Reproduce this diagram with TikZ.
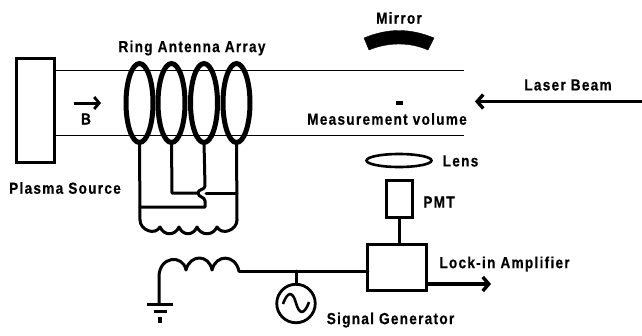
\documentclass[tikz,border=0pt]{standalone}
\usepackage{fontspec}
\usepackage{tikz}
\usetikzlibrary{arrows.meta,shapes.geometric}
\newfontfamily\figfont{Liberation Sans Bold}[FakeStretch=0.85,LetterSpace=8,FakeBold=0.4]
\tikzset{
    figlabel/.style={font=\figfont\fontsize{16}{18}\selectfont, inner sep=0pt},
    wire/.style={line width=3pt, line cap=round, line join=round},
    beamline/.style={line width=1.8pt},
    boxpart/.style={draw, line width=3.2pt, rectangle, outer sep=0pt, inner sep=0pt},
    ringant/.style={draw, ellipse, line width=5pt, minimum width=27pt, minimum height=79pt, inner sep=0pt, outer sep=0pt},
    bigarrow/.style={line width=3.4pt, -{Straight Barb[length=6pt,width=14pt,line width=3.4pt]}},
}
\begin{document}
\begin{tikzpicture}[x=1pt,y=-1pt]
    \useasboundingbox (0,0) rectangle (642,335);

    % source and beam lines
    \node[boxpart, minimum width=38pt, minimum height=104pt] (source) at (35.5,110.5) {};
    \coordinate (beamtop) at (464,70.5);
    \coordinate (beambot) at (464,135.5);
    \draw[beamline] (source.east |- beamtop) -- (beamtop);
    \draw[beamline] (source.east |- beambot) -- (beambot);

    % rings
    \node[ringant] (ringa) at (139.5,103) {};
    \node[ringant] (ringb) at (171.5,103) {};
    \node[ringant] (ringc) at (204,103) {};
    \node[ringant] (ringd) at (236.5,103) {};

    % wires under the rings, with the hop at ringc
    \coordinate (coila) at (140,220);
    \coordinate (coilb) at (237,220);
    \coordinate (hopin) at (205,186);
    \coordinate (hopout) at (205,207);
    \coordinate (junca) at (172,193);
    \coordinate (juncb) at (198,193);
    \coordinate (juncc) at (206,193);
    \draw[wire] (ringa.south) -- (coila);
    \draw[wire] (ringd.south) -- (coilb);
    \draw[wire] (ringb.south) -- (junca) -- (juncb);
    \draw[wire] (juncc) -- (juncc -| coilb);
    \draw[wire] (ringc.south) -- (hopin)
        .. controls (205,190) and (198,189) .. (198,193)
        .. controls (198,197) and (205,197) .. (205,201)
        -- (hopout) -- (hopout -| coila);

    % coil under the array
    \draw[wire] (coila) .. controls (140,230) and (155,236) .. (160,227)
        .. controls (164,236) and (175,236) .. (179,227)
        .. controls (183,236) and (193,236) .. (197,227)
        .. controls (201,236) and (213,236) .. (217,227)
        .. controls (222,236) and (237,230) .. (coilb);

    % mirror
    \draw[fill=black, line join=round] (364,38) .. controls (388,28) and (410,28) .. (434,38)
        -- (428,50) .. controls (410,42) and (388,42) .. (369,50) -- cycle;
    \node[fill=black, minimum width=7pt, minimum height=3.5pt, inner sep=0pt] (volmark) at (399,103) {};

    % laser
    \coordinate (laserstart) at (642,101.5);
    \coordinate (laserend) at (475,101.5);
    \draw[bigarrow] (laserstart) -- (laserend);

    % detection
    \node[draw, ellipse, line width=2.6pt, minimum width=65pt, minimum height=13pt, inner sep=0pt, outer sep=0pt] (lens) at (399,160.5) {};
    \node[boxpart, minimum width=25.5pt, minimum height=37pt] (pmt) at (399.5,199) {};
    \node[boxpart, minimum width=58.5pt, minimum height=46pt] (lockin) at (397,267.5) {};
    \draw[wire] (pmt.south) -- (pmt.south |- lockin.north);
    \coordinate (outend) at (491,284);
    \draw[bigarrow] (lockin.east |- outend) -- (outend);

    % generator and inductor
    \node[draw, circle, line width=2.8pt, minimum size=38.5pt, inner sep=0pt, outer sep=0pt] (siggen) at (296,303.5) {};
    \draw[line width=2.6pt] (283,304) .. controls (288,290) and (293,292) .. (296,303)
        .. controls (299,314) and (304,316) .. (309,302);
    \coordinate (indend) at (239,271);
    \coordinate (gndtop) at (159,304);
    \draw[wire] (lockin.west |- indend) -- (indend);
    \draw[wire] (siggen.north) -- (siggen.north |- indend);
    \draw[wire] (gndtop) -- (159,277)
        .. controls (159,256) and (183,254) .. (186,270)
        .. controls (190,254) and (209,254) .. (212,270)
        .. controls (216,254) and (235,254) .. (indend);

    % ground
    \draw[line width=3pt] (147,304) -- (173,304);
    \draw[line width=3pt] (154,311) -- (167,311);
    \draw[line width=3.5pt] (160,317) -- (160,323);

    % B field arrow
    \coordinate (fielda) at (74,103);
    \coordinate (fieldb) at (101,103);
    \draw[line width=3pt, -{Straight Barb[length=5pt,width=12pt,line width=2.8pt]}] (fielda) -- (fieldb);

    % labels
    \node[figlabel] (ringlabel) at (192,48) {Ring Antenna Array};
    \node[figlabel] (sourcelabel) at (65,188) {Plasma Source};
    \node[figlabel] (blabel) at (86,119) {B};
    \node[figlabel] (mirrorlabel) at (399,18) {Mirror};
    \node[figlabel] (vollabel) at (387,119) {Measurement volume};
    \node[figlabel] (laserlabel) at (568,85) {Laser Beam};
    \node[figlabel] (lenslabel) at (460.5,161) {Lens};
    \node[figlabel] (pmtlabel) at (439,202) {PMT};
    \node[figlabel] (lockinlabel) at (504.5,264) {Lock-in Amplifier};
    \node[figlabel] (genlabel) at (390.5,320) {Signal Generator};
\end{tikzpicture}
\end{document}
